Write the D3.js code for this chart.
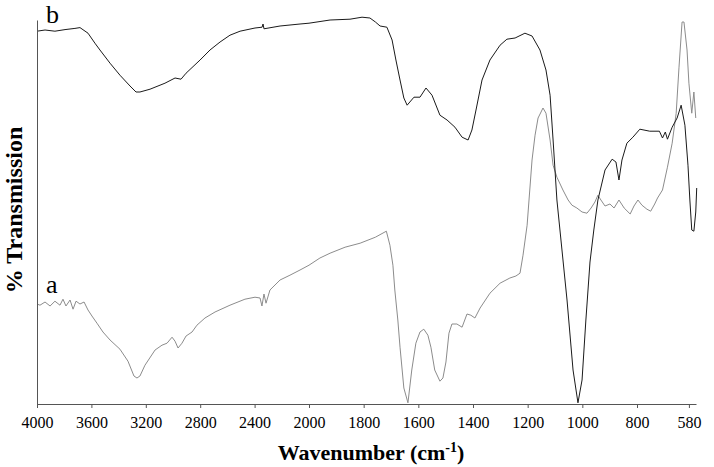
<!DOCTYPE html>
<html>
<head>
<meta charset="utf-8">
<script src="https://cdn.jsdelivr.net/npm/d3@7"></script>
<style>
	body { margin: 0; background: #fff; }
	svg { display: block; font-family: 'Liberation Serif', 'Times New Roman', serif; }
	svg text { font-family: 'Liberation Serif', 'Times New Roman', serif; }
</style>
</head>
<body>
<div id="chart"></div>
<script>

// tick labels of the wavenumber axis (scale changes at 2000)
var xTicks = [4000, 3600, 3200, 2800, 2400, 2000, 1800, 1600, 1400, 1200, 1000, 800, 580];

// spectrum b (black)
var bWave = [4000, 3941, 3868, 3794, 3721, 3684, 3625, 3574, 3537, 3463, 3390, 3316, 3272, 3243, 3169, 3059, 2985, 2941, 2904, 2801,
	2728, 2654, 2581, 2507, 2397, 2345, 2338, 2331, 2213, 2066, 2000, 1923, 1850, 1806, 1777, 1757, 1740, 1715, 1696, 1682,
	1667, 1653, 1641, 1616, 1594, 1572, 1550, 1521, 1495, 1466, 1440, 1418, 1404, 1389, 1367, 1338, 1301, 1276, 1246, 1210,
	1184, 1155, 1133, 1118, 1107, 1093, 1056, 1034, 1016, 1001, 987, 972, 958, 943, 917, 891, 877, 866, 855, 837,
	815, 788, 746, 705, 692, 680, 671, 651, 630, 613, 597, 584, 576, 568, 559, 551, 547];
var bTrans = [93.2, 93.5, 93.2, 93.6, 93.9, 94.1, 92.7, 90.2, 88.5, 85.2, 82.2, 79.5, 78, 78, 78.7, 80.2, 81.5, 81.2, 82.7, 86,
	88.5, 90.5, 92.2, 93.2, 94, 94.2, 95, 93.8, 94.5, 95, 95.2, 96, 96.2, 96.7, 96.5, 95.5, 94.5, 94.2, 91, 86,
	81, 76.5, 74.7, 76.7, 76.7, 79, 77.2, 72.2, 71, 69.2, 66.7, 66, 68.5, 73.5, 81, 86, 89.7, 91.2, 91.5, 92.7,
	92, 88.5, 83.5, 77.2, 66, 51, 26, 8.5, 0.3, 6, 21, 35.5, 43.5, 51, 58.5, 61.2, 60.5, 56, 61, 65.2,
	66.7, 68.7, 68.2, 68.2, 66.5, 68, 66.2, 69.2, 71.5, 74.7, 69.7, 59.7, 51, 43.5, 43.2, 48, 54];

// spectrum a (grey)
var aWave = [4000, 3978, 3941, 3904, 3868, 3831, 3809, 3787, 3757, 3735, 3713, 3684, 3654, 3625, 3596, 3559, 3515, 3463, 3390, 3331,
	3287, 3265, 3243, 3206, 3132, 3081, 3044, 3007, 2985, 2963, 2934, 2904, 2860, 2824, 2765, 2691, 2581, 2471, 2397, 2360,
	2346, 2331, 2316, 2287, 2213, 2140, 2066, 2000, 1960, 1923, 1868, 1813, 1757, 1717, 1704, 1693, 1686, 1675, 1667, 1653,
	1638, 1624, 1609, 1594, 1580, 1565, 1554, 1540, 1521, 1510, 1499, 1488, 1477, 1459, 1440, 1422, 1408, 1393, 1374, 1338,
	1301, 1265, 1243, 1228, 1217, 1202, 1184, 1173, 1162, 1151, 1144, 1133, 1118, 1107, 1093, 1071, 1052, 1038, 1020, 1001,
	983, 968, 954, 943, 932, 917, 899, 884, 866, 847, 825, 811, 796, 779, 758, 742, 725, 713, 692, 671,
	651, 634, 622, 609, 601, 588, 580, 568, 559, 551];
var aTrans = [25, 24.7, 25.5, 24.5, 25.7, 24.7, 26.2, 24.5, 26, 23.7, 25.7, 25, 25.5, 23.5, 22, 20.2, 18, 16, 13.7, 10.7,
	7, 6.5, 7, 9.7, 13.5, 14.7, 15.2, 16.7, 15.7, 14, 15.2, 17, 18, 19.7, 21.5, 23, 24.7, 26.2, 26.7, 26.5,
	24.5, 27.5, 25.2, 28.5, 31, 32.2, 33.5, 34.7, 36.5, 37.7, 39.2, 40.2, 41.7, 43.2, 39.7, 34.7, 28.5, 21, 14.2, 4,
	0.3, 8.5, 15.2, 18, 18.7, 17.2, 14.2, 8.5, 5.7, 6.5, 10.5, 17.7, 20, 20, 19.2, 22.5, 22.2, 21.5, 24, 27.7,
	30.2, 31.5, 32, 32.7, 37.2, 44.7, 61, 67.2, 71.5, 73, 74, 72.7, 66, 59.7, 56.7, 53.5, 51, 49.7, 49, 48,
	47.7, 49, 50.5, 52.2, 51, 49.5, 50, 49, 51, 49, 47.5, 49.5, 51, 49.7, 48.7, 48.2, 50, 51.5, 53.5, 59.2,
	65.2, 72.7, 84.2, 95.5, 95.5, 88.5, 80.2, 72.7, 78, 71.5];

var width = 714;
var height = 467;

var svg = d3.select('#chart').append('svg')
	.attr('width', width)
	.attr('height', height);

// expanded scale below 2000 cm-1, as on the instrument print-out
var x = d3.scaleLinear().domain([4000, 2000, 800, 550]).range([37, 309, 637, 696]);
var y = d3.scaleLinear().domain([0, 96]).range([404, 20]);

var line = d3.line()
	.x(function(d) { return x(d[0]); })
	.y(function(d) { return y(d[1]); });

svg.append('path')
	.datum(d3.zip(aWave, aTrans))
	.attr('fill', 'none')
	.attr('stroke', '#8c8c8c')
	.attr('stroke-width', 1)
	.attr('d', line);

svg.append('path')
	.datum(d3.zip(bWave, bTrans))
	.attr('fill', 'none')
	.attr('stroke', '#1a1a1a')
	.attr('stroke-width', 1)
	.attr('d', line);

// axes
var xAxis = svg.append('g')
	.attr('transform', 'translate(0,' + y(0) + ')')
	.call(d3.axisBottom(x).tickValues(xTicks).tickFormat(d3.format('d')).tickSizeInner(4).tickSizeOuter(0).tickPadding(9));

xAxis.attr('font-family', null).attr('font-size', null);
xAxis.selectAll('path, line').attr('stroke', '#555');
xAxis.selectAll('text')
	.attr('fill', '#000')
	.style('font-family', "'Liberation Serif', serif")
	.style('font-size', '16px');

var yAxis = svg.append('g')
	.attr('transform', 'translate(' + x(4000) + ',0)')
	.call(d3.axisLeft(y).tickValues([]).tickSizeOuter(0));

yAxis.selectAll('path').attr('stroke', '#555');

// titles
var xt = svg.append('text')
	.attr('x', 371)
	.attr('y', 460)
	.attr('text-anchor', 'middle')
	.style('font-size', '22px')
	.style('font-weight', 'bold')
	.text('Wavenumber (cm');
xt.append('tspan').attr('dy', -8).style('font-size', '14px').text('-1');
xt.append('tspan').attr('dy', 8).text(')');

svg.append('text')
	.attr('transform', 'translate(22,210) rotate(-90)')
	.attr('text-anchor', 'middle')
	.style('font-size', '24px')
	.style('font-weight', 'bold')
	.text('% Transmission');

// curve labels
svg.append('text').attr('x', 46).attr('y', 23).style('font-size', '26px').text('b');
svg.append('text').attr('x', 46).attr('y', 293).style('font-size', '26px').text('a');

</script>
</body>
</html>
